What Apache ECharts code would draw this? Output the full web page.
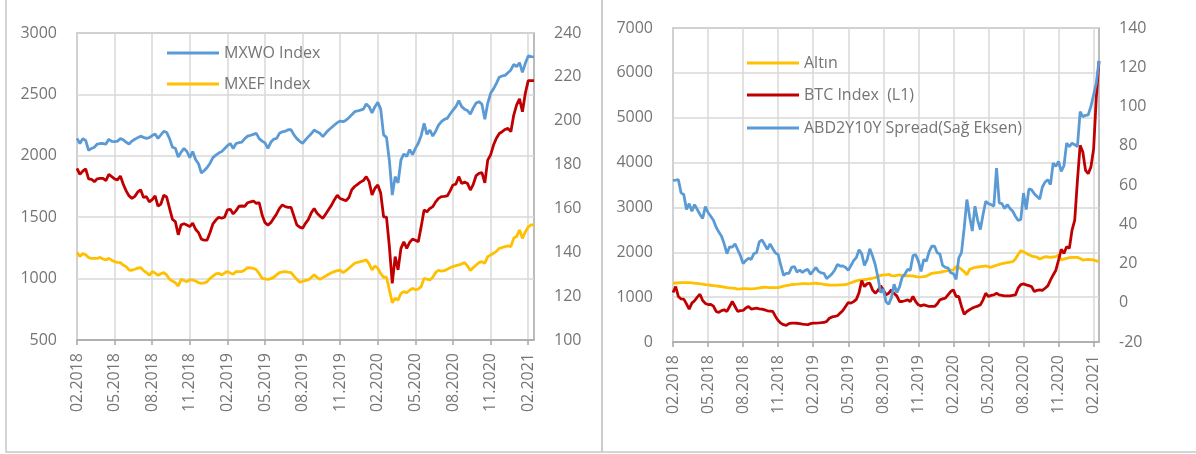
<!DOCTYPE html>
<html><head><meta charset="utf-8">
<script src="https://cdn.jsdelivr.net/npm/echarts@6/dist/echarts.min.js"></script>
<style>html,body{margin:0;padding:0;background:#fff}#c{width:1196px;height:454px}</style>
</head><body><div id="c"></div>
<script>
// Quarterly tick labels (every 13 weeks)
const tickLabels = ['02.2018','05.2018','08.2018','11.2018','02.2019','05.2019','08.2019','11.2019','02.2020','05.2020','08.2020','11.2020','02.2021'];
const TICK_STEP = 13;
// Weekly categories
const weeks = [];
for (let i = 0; i < 159; i++) {
  const d = new Date(Date.UTC(2018, 1, 2) + i * 7 * 86400000);
  weeks.push(d.toISOString().slice(0, 10));
}

// Left chart
const mxwo = [2142,2100,2140,2125,2045,2060,2070,2096,2100,2100,
 2096,2134,2118,2115,2120,2140,2130,2110,2096,2120,
 2135,2148,2160,2150,2142,2148,2165,2178,2142,2170,
 2200,2190,2140,2070,2061,1990,2030,2060,2035,1985,
 2035,1970,1935,1860,1880,1905,1940,1985,2005,2022,
 2034,2058,2082,2100,2060,2100,2107,2112,2140,2160,
 2167,2175,2183,2140,2120,2105,2060,2110,2135,2142,
 2183,2195,2200,2212,2213,2170,2140,2118,2102,2130,
 2156,2180,2210,2195,2183,2156,2185,2210,2230,2251,
 2270,2283,2278,2290,2310,2335,2359,2365,2372,2380,
 2422,2400,2350,2400,2435,2380,2170,2150,1960,1680,
 1830,1780,1966,2015,1995,2050,2010,2060,2102,2165,
 2265,2175,2210,2160,2200,2250,2278,2297,2305,2340,
 2373,2400,2450,2400,2380,2368,2340,2390,2430,2441,
 2420,2297,2427,2509,2545,2590,2640,2650,2655,2677,
 2699,2745,2726,2758,2680,2753,2813,2807,2805];
const mxef = [1214,1180,1205,1195,1171,1165,1165,1165,1173,1160,
 1152,1165,1150,1138,1132,1130,1110,1097,1070,1068,
 1076,1085,1090,1065,1050,1027,1057,1045,1027,1040,
 1049,1030,994,980,967,940,994,985,975,989,
 989,980,967,962,965,975,1002,1020,1038,1043,
 1030,1045,1057,1045,1035,1057,1057,1057,1070,1089,
 1087,1084,1072,1040,1002,998,994,1000,1010,1030,
 1049,1055,1057,1052,1049,1020,994,970,978,985,
 989,1010,1030,1010,994,1008,1021,1035,1047,1057,
 1065,1068,1049,1065,1084,1105,1125,1133,1138,1145,
 1152,1120,1070,1103,1084,1040,1011,1011,907,804,
 840,826,880,894,885,905,921,910,915,935,
 1003,995,989,1011,1050,1068,1060,1065,1076,1088,
 1098,1105,1111,1120,1130,1103,1065,1090,1111,1130,
 1138,1125,1179,1192,1206,1222,1247,1253,1260,1266,
 1260,1330,1342,1396,1328,1380,1420,1437,1437];
// red line, right axis
const redRight = [178.3,175.5,177,178,173.5,173.3,172.2,173.5,173.7,173.7,
 172.7,175.5,174.5,173.5,173,174.8,171,168,165.7,164.6,
 165.5,167.5,168.5,165,165.4,163,164,165.7,161,162,
 166,165.2,160,155,154,148,152.5,153,152.4,151.7,
 153.3,150.5,149,146,145.5,145.6,149,153,154.7,156,
 155.5,156,159.3,159.6,157.5,159,161,161.1,161,162.6,
 163,163.4,162.3,162.6,157,153.5,152.4,153.5,155.5,157.5,
 160,161.6,160.8,160.5,160.5,156.5,152.5,151.5,151,153.2,
 155,158,160,157.8,156.5,155.5,157.5,159.5,161.5,164,
 166,164.5,164,163.5,165,168.5,170,171,172,172.7,
 174.5,172.2,166.1,169.2,170.7,167,156.2,156,142.6,125.8,
 138,132,141.8,144.8,141.8,144.5,146,145.5,144.8,151.7,
 159.3,158.5,160,160.8,163,164.6,165.4,165.5,165.7,168,
 170.7,171.1,174.5,171.4,172,171.4,168.4,171,175,176,
 176.3,171.7,182,184.4,188.9,192,194.2,195,196,196.5,
 195,202.6,207.2,210,204.1,212.5,218.3,218.3,218.3];

// Right chart
const altin = [1310,1315,1320,1325,1325,1325,1325,1318,1310,1305,
 1296,1288,1280,1273,1265,1258,1250,1243,1236,1225,
 1214,1208,1203,1195,1180,1185,1192,1190,1186,1184,
 1190,1197,1205,1215,1221,1218,1214,1214,1214,1214,
 1230,1245,1255,1268,1278,1283,1288,1295,1303,1300,
 1296,1300,1305,1310,1303,1296,1287,1276,1271,1267,
 1266,1270,1273,1276,1280,1295,1320,1340,1365,1378,
 1384,1392,1399,1410,1421,1435,1460,1485,1495,1498,
 1510,1478,1475,1485,1495,1485,1475,1473,1473,1473,
 1460,1445,1450,1458,1470,1500,1532,1538,1545,1550,
 1569,1580,1590,1600,1606,1680,1665,1620,1569,1495,
 1621,1640,1665,1672,1680,1688,1695,1680,1665,1690,
 1710,1730,1745,1758,1769,1780,1791,1850,1950,2036,
 2010,1976,1945,1917,1905,1890,1850,1875,1902,1895,
 1887,1895,1902,1939,1830,1850,1865,1880,1887,1887,
 1887,1860,1828,1835,1843,1838,1828,1810,1791];
const btc = [1103,1236,1014,960,955,850,733,866,920,1000,
 1066,925,860,835,840,800,681,660,700,718,
 681,792,903,792,681,700,703,760,792,733,
 745,755,740,733,715,696,690,681,570,480,
 420,385,370,410,422,422,418,410,400,392,
 385,410,422,422,425,430,436,459,530,560,
 570,585,644,700,792,880,866,900,950,1100,
 1370,1236,1300,1310,1162,1088,1150,1251,1162,1051,
 1088,1162,1080,1028,903,903,920,940,903,1014,
 903,830,806,829,810,792,792,792,850,940,
 960,977,1051,1125,1162,1014,1014,792,620,681,
 720,755,780,800,829,940,1088,1014,1040,1051,
 1088,1051,1040,1028,1028,1028,1040,1051,1200,1280,
 1295,1273,1255,1236,1125,1150,1162,1150,1199,1251,
 1380,1495,1600,1828,2065,1976,2125,2088,2495,2717,
 3600,4384,4236,3828,3754,3902,4300,5450,6260];
const spread = [62.4,62.5,62.7,56,55.2,47.5,50.5,46.6,50,47.5,
 45,43,49,46,44.1,42,38.5,36,33.9,30,
 25,28.5,28.3,30,27,24,20,21.5,22.7,22.1,
 25,25.5,31,32,29.7,27.2,30,27.5,25.3,24.6,
 19,14,15,15,18,18.5,15.6,16.7,15.5,16.5,
 17,14.5,16.2,18,16,15.2,15,12.3,13.5,14.8,
 16.7,19.5,18.7,18.8,18,16.5,19,21.5,23,27,
 25,19,22,27.5,23.8,19.5,13,5.2,6.9,0.5,
 -0.8,2.6,9.4,5.2,8,13,14.5,17,16.5,24,
 24.5,21.2,16,22,21.2,26,28.8,28.8,25.5,24.8,
 19,18,17.8,15.3,14.8,11.9,22.9,25.5,38,52.6,
 44,36.5,49.2,42,37.3,45,51.7,50.5,50,49.2,
 68.6,50.9,50.5,48,50,48,46.6,44.1,42,42.5,
 55.9,47.5,58,57.5,55.5,54.2,52.8,59,61.5,62.7,
 60.2,71.2,69.5,72,66.9,69.8,81.3,79.6,81.3,80.5,
 79.6,97.4,94.8,95.5,95.7,100,106,112,123.3];

const FONT = "'Open Sans', 'Noto Sans', sans-serif";
const TXT = '#757575';
const GRIDC = '#d9d9d9';
const FRAME = '#a6a6a6';
const BLUE = '#5b9bd5', GOLD = '#ffc000', RED = '#c00000';

function isTick(idx) { return idx % TICK_STEP === 0; }

function xAxisFor(gi) {
  return {
    type: 'category', gridIndex: gi, data: weeks, boundaryGap: false,
    axisLine: { show: true, lineStyle: { color: FRAME, width: 1.5 } },
    axisTick: { show: true, interval: isTick, length: 5, lineStyle: { color: FRAME, width: 1.5 } },
    axisLabel: {
      interval: isTick, rotate: 90, margin: 13,
      formatter: (v, idx) => isTick(idx) ? tickLabels[idx / TICK_STEP] : '',
      color: TXT, fontSize: 16, fontFamily: FONT
    },
    splitLine: { show: true, interval: isTick, lineStyle: { color: GRIDC, width: 1.5 } }
  };
}
function yAxisFor(gi, pos, min, max, interval, split) {
  return {
    type: 'value', gridIndex: gi, position: pos, min, max, interval,
    axisLine: { show: false }, axisTick: { show: false },
    axisLabel: { color: TXT, fontSize: 16, fontFamily: FONT, margin: 20, formatter: v => String(v) },
    splitLine: { show: split, lineStyle: { color: GRIDC, width: 1.5 } }
  };
}
function lineSeries(name, data, xi, yi, color, z) {
  return { name, type: 'line', data, xAxisIndex: xi, yAxisIndex: yi, symbol: 'none',
    lineStyle: { color, width: 2.8 }, itemStyle: { color }, z, animation: false };
}
function legendAt(name, left, top) {
  return { data: [name], left, top, padding: 0, icon: 'rect', itemWidth: 52, itemHeight: 3,
    textStyle: { color: TXT, fontSize: 16, fontFamily: FONT, lineHeight: 20 }, selectedMode: false };
}

const chart = echarts.init(document.getElementById('c'), null, { renderer: 'canvas' });
chart.setOption({
  animation: false,
  backgroundColor: '#fff',
  grid: [
    { left: 77, top: 33, width: 457, height: 307, show: true, borderColor: FRAME, borderWidth: 1.5, backgroundColor: 'transparent' },
    { left: 673, top: 28, width: 426, height: 314, show: true, borderColor: FRAME, borderWidth: 1.5, backgroundColor: 'transparent' }
  ],
  xAxis: [xAxisFor(0), xAxisFor(1)],
  yAxis: [
    yAxisFor(0, 'left', 500, 3000, 500, true),
    yAxisFor(0, 'right', 100, 240, 20, false),
    yAxisFor(1, 'left', 0, 7000, 1000, true),
    yAxisFor(1, 'right', -20, 140, 20, false)
  ],
  legend: [
    legendAt('MXWO Index', 167, 43),
    legendAt('MXEF Index', 167, 74),
    legendAt('Altın', 747, 53),
    legendAt('BTC Index  (L1)', 747, 85),
    legendAt('ABD2Y10Y Spread(Sağ Eksen)', 747, 118)
  ],
  series: [
    lineSeries('MXWO Index', mxwo, 0, 0, BLUE, 3),
    lineSeries('MXEF Index', mxef, 0, 0, GOLD, 3),
    lineSeries('Seri 3', redRight, 0, 1, RED, 3),
    lineSeries('Altın', altin, 1, 2, GOLD, 3),
    lineSeries('BTC Index  (L1)', btc, 1, 2, RED, 4),
    lineSeries('ABD2Y10Y Spread(Sağ Eksen)', spread, 1, 3, BLUE, 5)
  ],
  graphic: [
    { type: 'rect', shape: { x: 6, y: -10, width: 596, height: 462 }, style: { fill: 'none', stroke: '#c8c8c8', lineWidth: 1.5 }, silent: true },
    { type: 'rect', shape: { x: 602, y: -10, width: 700, height: 462 }, style: { fill: 'none', stroke: '#c8c8c8', lineWidth: 1.5 }, silent: true }
  ]
});
</script>
</body></html>
